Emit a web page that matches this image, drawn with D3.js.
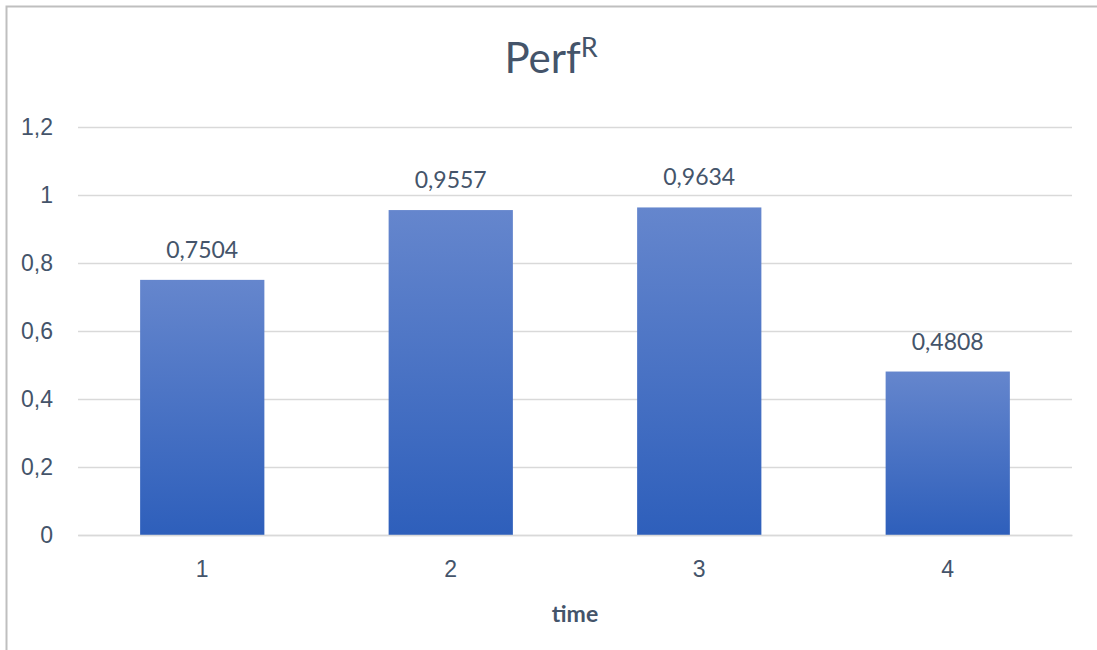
<!DOCTYPE html>
<html>
<head>
<meta charset="utf-8">
<script src="https://cdn.jsdelivr.net/npm/d3@7"></script>
<style>
  body { margin: 0; background: #fff; }
  svg { display: block; font-family: Lato, "Open Sans", sans-serif; }
</style>
</head>
<body>
<svg id="chart" width="1097" height="650"></svg>
<script>
// data
var categories = ["1", "2", "3", "4"];
var values = [0.7504, 0.9557, 0.9634, 0.4808];
var yTicks = [0, 0.2, 0.4, 0.6, 0.8, 1, 1.2];
var labels = ["0,7504", "0,9557", "0,9634", "0,4808"];

var W = 1097, H = 650;
var margin = {left: 78, right: 25, top: 127, bottom: 115};
var textColor = "#44546a";

var svg = d3.select("#chart");

// rameček
svg.append("path")
  .attr("d", "M6.5," + H + " L6.5,6.5 L" + W + ",6.5")
  .attr("fill", "none")
  .attr("stroke", "#bfbfbf")
  .attr("stroke-width", 2);

var x = d3.scaleBand()
  .domain(categories)
  .range([margin.left, W - margin.right])
  .paddingInner(0.5)
  .paddingOuter(0.25);

var y = d3.scaleLinear()
  .domain([0, 1.2])
  .range([H - margin.bottom, margin.top]);

// gradient za stolpce
var grad = svg.append("defs").append("linearGradient")
  .attr("id", "barGrad")
  .attr("x1", 0).attr("y1", 0).attr("x2", 0).attr("y2", 1);
grad.append("stop").attr("offset", "0%").attr("stop-color", "#6586cd");
grad.append("stop").attr("offset", "100%").attr("stop-color", "#2e5fbb");

// mreža
var yAxis = d3.axisLeft(y)
  .tickValues(yTicks)
  .tickSize(-(W - margin.left - margin.right))
  .tickPadding(25)
  .tickFormat(function(d) { return String(d).replace(".", ","); });

var gy = svg.append("g")
  .attr("transform", "translate(" + margin.left + ",0)")
  .call(yAxis);
gy.select(".domain").remove();
gy.selectAll(".tick line").attr("stroke", "#d9d9d9").attr("stroke-width", 1.5);
gy.selectAll(".tick text")
  .attr("fill", textColor)
  .style("font-size", "23px");

// stolpci
svg.append("g").selectAll("rect")
  .data(values)
  .enter()
  .append("rect")
  .attr("x", function(d, i) { return x(categories[i]); })
  .attr("y", function(d) { return y(d); })
  .attr("width", x.bandwidth())
  .attr("height", function(d) { return y(0) - y(d); })
  .attr("fill", "url(#barGrad)");

// oznake vrednosti
svg.append("g").selectAll("text")
  .data(values)
  .enter()
  .append("text")
  .attr("x", function(d, i) { return x(categories[i]) + x.bandwidth() / 2; })
  .attr("y", function(d) { return y(d) - 22; })
  .attr("text-anchor", "middle")
  .attr("fill", textColor)
  .style("font-size", "23px")
  .text(function(d, i) { return labels[i]; });

// x os
var gx = svg.append("g")
  .attr("transform", "translate(0," + y(0) + ")")
  .call(d3.axisBottom(x).tickSize(0).tickPadding(26));
gx.select(".domain").attr("stroke", "#d9d9d9").attr("stroke-width", 1.5);
gx.selectAll(".tick text")
  .attr("fill", textColor)
  .style("font-size", "23px");

// naslov osi
svg.append("text")
  .attr("x", (margin.left + W - margin.right) / 2)
  .attr("y", 622)
  .attr("text-anchor", "middle")
  .attr("fill", textColor)
  .style("font-size", "23px")
  .style("font-weight", "bold")
  .text("time");

// naslov
var title = svg.append("text")
  .attr("x", 551)
  .attr("y", 73)
  .attr("text-anchor", "middle")
  .attr("fill", textColor)
  .style("font-size", "42px");
title.append("tspan").text("Perf");
title.append("tspan")
  .attr("dy", -16)
  .style("font-size", "27px")
  .text("R");
</script>
</body>
</html>
